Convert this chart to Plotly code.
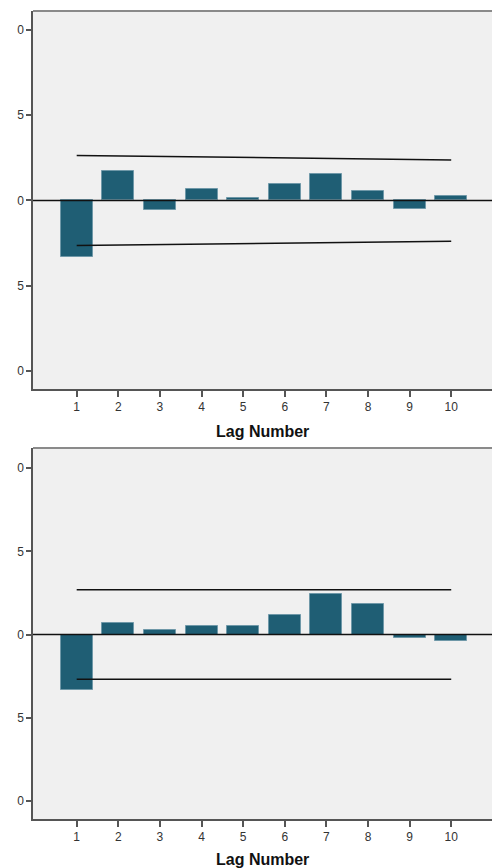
import plotly.graph_objects as go

# ---- data ----
lags = [1, 2, 3, 4, 5, 6, 7, 8, 9, 10]
acf_values = [-0.333, 0.172, -0.055, 0.068, 0.016, 0.098, 0.156, 0.055, -0.049, 0.027]
acf_upper = [0.264, 0.261, 0.258, 0.255, 0.252, 0.249, 0.246, 0.243, 0.240, 0.237]
acf_lower = [-0.264, -0.261, -0.258, -0.255, -0.252, -0.249, -0.246, -0.243, -0.241, -0.239]
pacf_values = [-0.333, 0.068, 0.026, 0.054, 0.054, 0.118, 0.241, 0.183, -0.022, -0.042]
pacf_upper = [0.269, 0.269, 0.269, 0.269, 0.269, 0.269, 0.269, 0.269, 0.269, 0.269]
pacf_lower = [-0.269, -0.269, -0.269, -0.269, -0.269, -0.269, -0.269, -0.269, -0.269, -0.269]
y_tickvals = [1.0, 0.5, 0.0, -0.5, -1.0]
y_ticktext = ["0", "5", "0", "5", "0"]  # labels as visible (cropped at left)
x_title = "Lag Number"

W, H = 492, 868
BAR = "#1f5e74"
FONT = "Liberation Sans, Arial, sans-serif"

def py(p):
    return 1 - p / H

fig = go.Figure()

panels = [
    ("x", "y", acf_values, acf_upper, acf_lower, (11, 389), [-1.106, 1.111], 431),
    ("x2", "y2", pacf_values, pacf_upper, pacf_lower, (448, 819), [-1.11, 1.122], 859),
]

xdom = [33 / W, 1.0]
for i, (xa, ya, vals, up, lo, (top, bot), yr, title_y) in enumerate(panels):
    fig.add_trace(go.Bar(x=lags, y=vals, xaxis=xa, yaxis=ya, width=0.77,
                         marker=dict(color=BAR, line=dict(color="#6f98a8", width=1)),
                         showlegend=False))
    fig.add_trace(go.Scatter(x=lags, y=up, xaxis=xa, yaxis=ya, mode="lines",
                             line=dict(color="#111111", width=1.5), showlegend=False))
    fig.add_trace(go.Scatter(x=lags, y=lo, xaxis=xa, yaxis=ya, mode="lines",
                             line=dict(color="#111111", width=1.5), showlegend=False))
    suffix = "" if i == 0 else "2"
    fig.layout["xaxis" + suffix] = dict(
        domain=xdom, range=[-0.05, 10.98], anchor=ya,
        tickvals=lags, ticktext=[str(l) for l in lags],
        ticks="outside", ticklen=6, tickwidth=1.5, tickcolor="#555555",
        showline=True, linecolor="#555555", linewidth=1.5, showgrid=False,
        zeroline=False, automargin=False,
        tickfont=dict(family=FONT, size=12, color="#333333"),
    )
    fig.layout["yaxis" + suffix] = dict(
        domain=[py(bot), py(top)], range=yr, anchor=xa,
        tickvals=y_tickvals, ticktext=y_ticktext,
        ticks="outside", ticklen=5, tickwidth=1.5, tickcolor="#555555",
        showline=True, linecolor="#555555", linewidth=1.5, showgrid=False,
        zeroline=False, automargin=False,
        tickfont=dict(family=FONT, size=12, color="#333333"),
    )
    # zero reference line
    fig.add_shape(type="line", xref=xa + " domain", yref=ya, x0=0, x1=1, y0=0, y1=0,
                  line=dict(color="#111111", width=1.5), layer="above")
    # top frame line
    fig.add_shape(type="line", xref="paper", yref="paper", x0=xdom[0], x1=1,
                  y0=py(top), y1=py(top), line=dict(color="#8a8a8a", width=2))
    fig.add_annotation(text="<b>" + x_title + "</b>", xref="paper", yref="paper",
                       x=(xdom[0] + 1) / 2, y=py(title_y), showarrow=False,
                       xanchor="center", yanchor="middle",
                       font=dict(family=FONT, size=16, color="#111111"))

fig.update_layout(
    width=W, height=H, margin=dict(l=0, r=0, t=0, b=0),
    paper_bgcolor="white", plot_bgcolor="#f0f0f0",
    bargap=0, showlegend=False,
)

fig.write_html("out.html")
